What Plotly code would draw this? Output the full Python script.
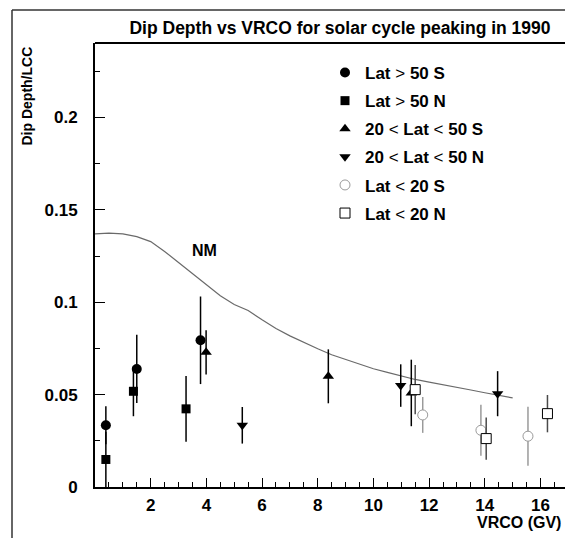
import plotly.graph_objects as go

# ---- data ----
lat50S_x = [0.39, 1.50, 3.79]
lat50S_y = [0.0334, 0.0639, 0.0794]
lat50S_e = [0.0103, 0.0185, 0.0237]

lat50N_x = [0.39, 1.38, 3.27]
lat50N_y = [0.0149, 0.0518, 0.0423]
lat50N_e = [0.0150, 0.0135, 0.0178]

midS_x = [3.99, 8.38, 11.36]
midS_y = [0.0729, 0.0599, 0.0509]
midS_e = [0.0120, 0.0146, 0.0180]

midN_x = [5.29, 10.98, 14.46]
midN_y = [0.0334, 0.0549, 0.0505]
midN_e = [0.0099, 0.0115, 0.0122]

lowS_x = [11.77, 13.86, 15.55]
lowS_y = [0.0390, 0.0307, 0.0275]
lowS_e = [0.0097, 0.0138, 0.0160]

lowN_x = [11.50, 14.05, 16.25]
lowN_y = [0.0527, 0.0262, 0.0397]
lowN_e = [0.0133, 0.0114, 0.0101]

nm_x = [0, 0.5, 1.0, 1.5, 2.0, 2.5, 3.0, 3.5, 4.0, 4.5, 5.0, 5.5, 6.0, 6.5, 7.0,
        7.5, 8.0, 8.5, 9.0, 9.5, 10.0, 10.5, 11.0, 11.5, 12.0, 12.5, 13.0, 13.5,
        14.0, 14.5, 15.0]
nm_y = [0.1370, 0.1374, 0.1370, 0.1355, 0.1328, 0.1275, 0.1215, 0.1155, 0.1090,
        0.1035, 0.0988, 0.0955, 0.0905, 0.0858, 0.0818, 0.0782, 0.0748, 0.0716,
        0.0690, 0.0665, 0.0640, 0.0620, 0.0600, 0.0582, 0.0568, 0.0555, 0.0540,
        0.0525, 0.0510, 0.0495, 0.0482]

x_ticks = [2, 4, 6, 8, 10, 12, 14, 16]
y_ticks = [0, 0.05, 0.1, 0.15, 0.2]

FONT = "Liberation Sans, Arial, sans-serif"

W, H = 565, 538
ML, MR, MT, MB = 95, 0, 43, 51

fig = go.Figure()

fig.add_trace(go.Scatter(x=nm_x, y=nm_y, mode="lines",
                         line=dict(color="#6a6a6a", width=1.2),
                         showlegend=False, hoverinfo="skip"))

series = [
    (lat50S_x, lat50S_y, lat50S_e, "<b>Lat</b> > <b>50 S</b>",
     dict(symbol="circle", size=10, color="black"), "black"),
    (lat50N_x, lat50N_y, lat50N_e, "<b>Lat</b> > <b>50 N</b>",
     dict(symbol="square", size=9, color="black"), "black"),
    (midS_x, midS_y, midS_e, "<b>20</b> < <b>Lat</b> < <b>50 S</b>",
     dict(symbol="triangle-up", size=10, color="black"), "black"),
    (midN_x, midN_y, midN_e, "<b>20</b> < <b>Lat</b> < <b>50 N</b>",
     dict(symbol="triangle-down", size=10, color="black"), "black"),
    (lowS_x, lowS_y, lowS_e, "<b>Lat</b> < <b>20 S</b>",
     dict(symbol="circle", size=10, color="white",
          line=dict(color="#9a9a9a", width=1)), "#9a9a9a"),
    (lowN_x, lowN_y, lowN_e, "<b>Lat</b> < <b>20 N</b>",
     dict(symbol="square", size=10, color="white",
          line=dict(color="black", width=1)), "#4a4a4a"),
]

for i, (xs, ys, es, name, mk, ecol) in enumerate(series):
    fig.add_trace(go.Scatter(
        x=xs, y=ys, mode="markers", name=name, marker=mk,
        legendgroup=f"g{i}",
        error_y=dict(type="data", array=es, visible=True, color=ecol,
                     thickness=1.5, width=0),
    ))

pw = W - ML - MR
ph = H - MT - MB
def px_x(p):
    return (p - ML) / pw
def px_y(p):
    return (H - MB - p) / ph

fig.update_layout(
    width=W, height=H,
    margin=dict(l=ML, r=MR, t=MT, b=MB, autoexpand=False),
    paper_bgcolor="white", plot_bgcolor="white",
    font=dict(family=FONT, size=14, color="black"),
    showlegend=True,
    legend=dict(x=px_x(325), y=px_y(55), xanchor="left", yanchor="top",
                font=dict(family=FONT, size=17, color="black"),
                bgcolor="rgba(0,0,0,0)", tracegroupgap=3,
                itemwidth=30),
    title=dict(text="<b>Dip Depth vs VRCO for solar cycle peaking in 1990</b>",
               x=340 / W, xref="container", xanchor="center",
               y=1 - 28 / H, yref="container", yanchor="middle",
               font=dict(family=FONT, size=17.5, color="black")),
)

fig.update_xaxes(
    range=[0, 16.88], showgrid=False, zeroline=False, automargin=False,
    showline=True, linecolor="black", linewidth=2, mirror=False,
    ticks="inside", ticklen=9, tickwidth=1.2, tickcolor="black",
    tickvals=x_ticks, ticktext=[str(v) for v in x_ticks],
    tickfont=dict(family=FONT, size=17, weight="bold"),
    ticklabelstandoff=2,
    minor=dict(dtick=0.5, tick0=0, ticks="inside", ticklen=5,
               tickwidth=1, tickcolor="black"),
)
fig.update_yaxes(
    range=[0, 0.2403], showgrid=False, zeroline=False, automargin=False,
    showline=True, linecolor="black", linewidth=2,
    ticks="inside", ticklen=10, tickwidth=1.2, tickcolor="black",
    tickvals=y_ticks, ticktext=["0", "0.05", "0.1", "0.15", "0.2"],
    tickfont=dict(family=FONT, size=17, weight="bold"),
    ticklabelstandoff=12,
    minor=dict(dtick=0.025, tick0=0, ticks="inside", ticklen=5,
               tickwidth=1, tickcolor="black"),
)

# plot box top edge
fig.add_shape(type="line", xref="paper", yref="paper",
              x0=0, x1=1, y0=1, y1=1,
              line=dict(color="black", width=2))
# outer frame (left and top)
fig.add_shape(type="line", xref="paper", yref="paper",
              x0=px_x(12), x1=px_x(12), y0=px_y(10), y1=px_y(560),
              line=dict(color="#333333", width=1.5))
fig.add_shape(type="line", xref="paper", yref="paper",
              x0=px_x(12), x1=1, y0=px_y(10), y1=px_y(10),
              line=dict(color="#333333", width=1.5))

fig.add_annotation(text="<b>NM</b>", x=3.95, y=0.1278, xref="x", yref="y",
                   showarrow=False, font=dict(family=FONT, size=16))
fig.add_annotation(text="<b>Dip Depth/LCC</b>", textangle=-90,
                   xref="paper", yref="paper", x=px_x(27), y=px_y(45),
                   xanchor="center", yanchor="top", showarrow=False,
                   font=dict(family=FONT, size=14))
fig.add_annotation(text="<b>VRCO (GV)</b>", xref="paper", yref="paper",
                   x=px_x(563), y=px_y(522), xanchor="right", yanchor="middle",
                   showarrow=False, font=dict(family=FONT, size=16))

fig.write_html("out.html",
               config={"displayModeBar": False},
               post_script="document.body.style.margin='0';"
                           "document.body.style.overflow='hidden';")
